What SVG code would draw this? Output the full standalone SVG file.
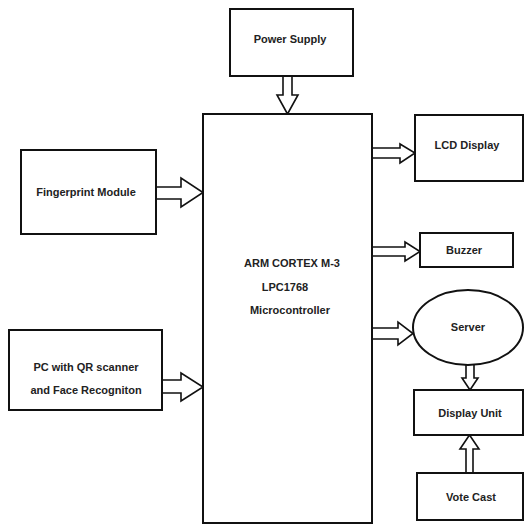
<svg xmlns="http://www.w3.org/2000/svg" width="525" height="525" viewBox="0 0 525 525">
<style>
.box{fill:#fff;stroke:#111;stroke-width:2}
.arr{fill:#fff;stroke:#111;stroke-width:1.6;stroke-linejoin:miter}
text{font-family:"Liberation Sans",Arial,sans-serif;font-size:11px;font-weight:bold;fill:#222;text-anchor:middle}
</style>
<rect width="525" height="525" fill="#fff"/>
<g id="connectors">
<polygon class="arr" points="283,76 292,76 292,95 298,95 287.5,114 277,95 283,95"/>
<polygon class="arr" points="156,187 181,187 181,178 203,192.5 181,207 181,199 156,199"/>
<polygon class="arr" points="162,380 181,380 181,373 203,387 181,401 181,393 162,393"/>
<polygon class="arr" points="372,148 400,148 400,144 415,153 400,163 400,158 372,158"/>
<polygon class="arr" points="372,247 405,247 405,242 420,251.5 405,261 405,256 372,256"/>
<polygon class="arr" points="372,328 398,328 398,322 413,333.5 398,345 398,339 372,339"/>
<polygon class="arr" points="466,364 474,364 474,378 478,378 470,390 462,378 466,378"/>
<polygon class="arr" points="466,473 473,473 473,449 479,449 469.5,435 460,449 466,449"/>
</g>
<g id="power-supply">
<rect class="box" x="230" y="9" width="123" height="67"/>
<text x="290" y="43">Power Supply</text>
</g>
<g id="microcontroller">
<rect class="box" x="203" y="114" width="169" height="409"/>
<text x="292" y="267">ARM CORTEX M-3</text>
<text x="285" y="291">LPC1768</text>
<text x="290" y="314">Microcontroller</text>
</g>
<g id="fingerprint">
<rect class="box" x="21" y="150" width="135" height="84"/>
<text x="86" y="196">Fingerprint Module</text>
</g>
<g id="pc">
<rect class="box" x="9" y="330" width="153" height="80"/>
<text x="86" y="371">PC with QR scanner</text>
<text x="86" y="394">and Face Recogniton</text>
</g>
<g id="lcd">
<rect class="box" x="415" y="115" width="108" height="66"/>
<text x="467" y="149">LCD Display</text>
</g>
<g id="buzzer">
<rect class="box" x="420" y="233" width="93" height="34"/>
<text x="464" y="254">Buzzer</text>
</g>
<g id="server">
<ellipse class="box" cx="468" cy="327.5" rx="55" ry="37.5"/>
<text x="468" y="331">Server</text>
</g>
<g id="display-unit">
<rect class="box" x="414" y="390" width="109" height="45"/>
<text x="470" y="417">Display Unit</text>
</g>
<g id="vote-cast">
<rect class="box" x="417" y="473" width="106" height="47"/>
<text x="471" y="501">Vote Cast</text>
</g>
</svg>
